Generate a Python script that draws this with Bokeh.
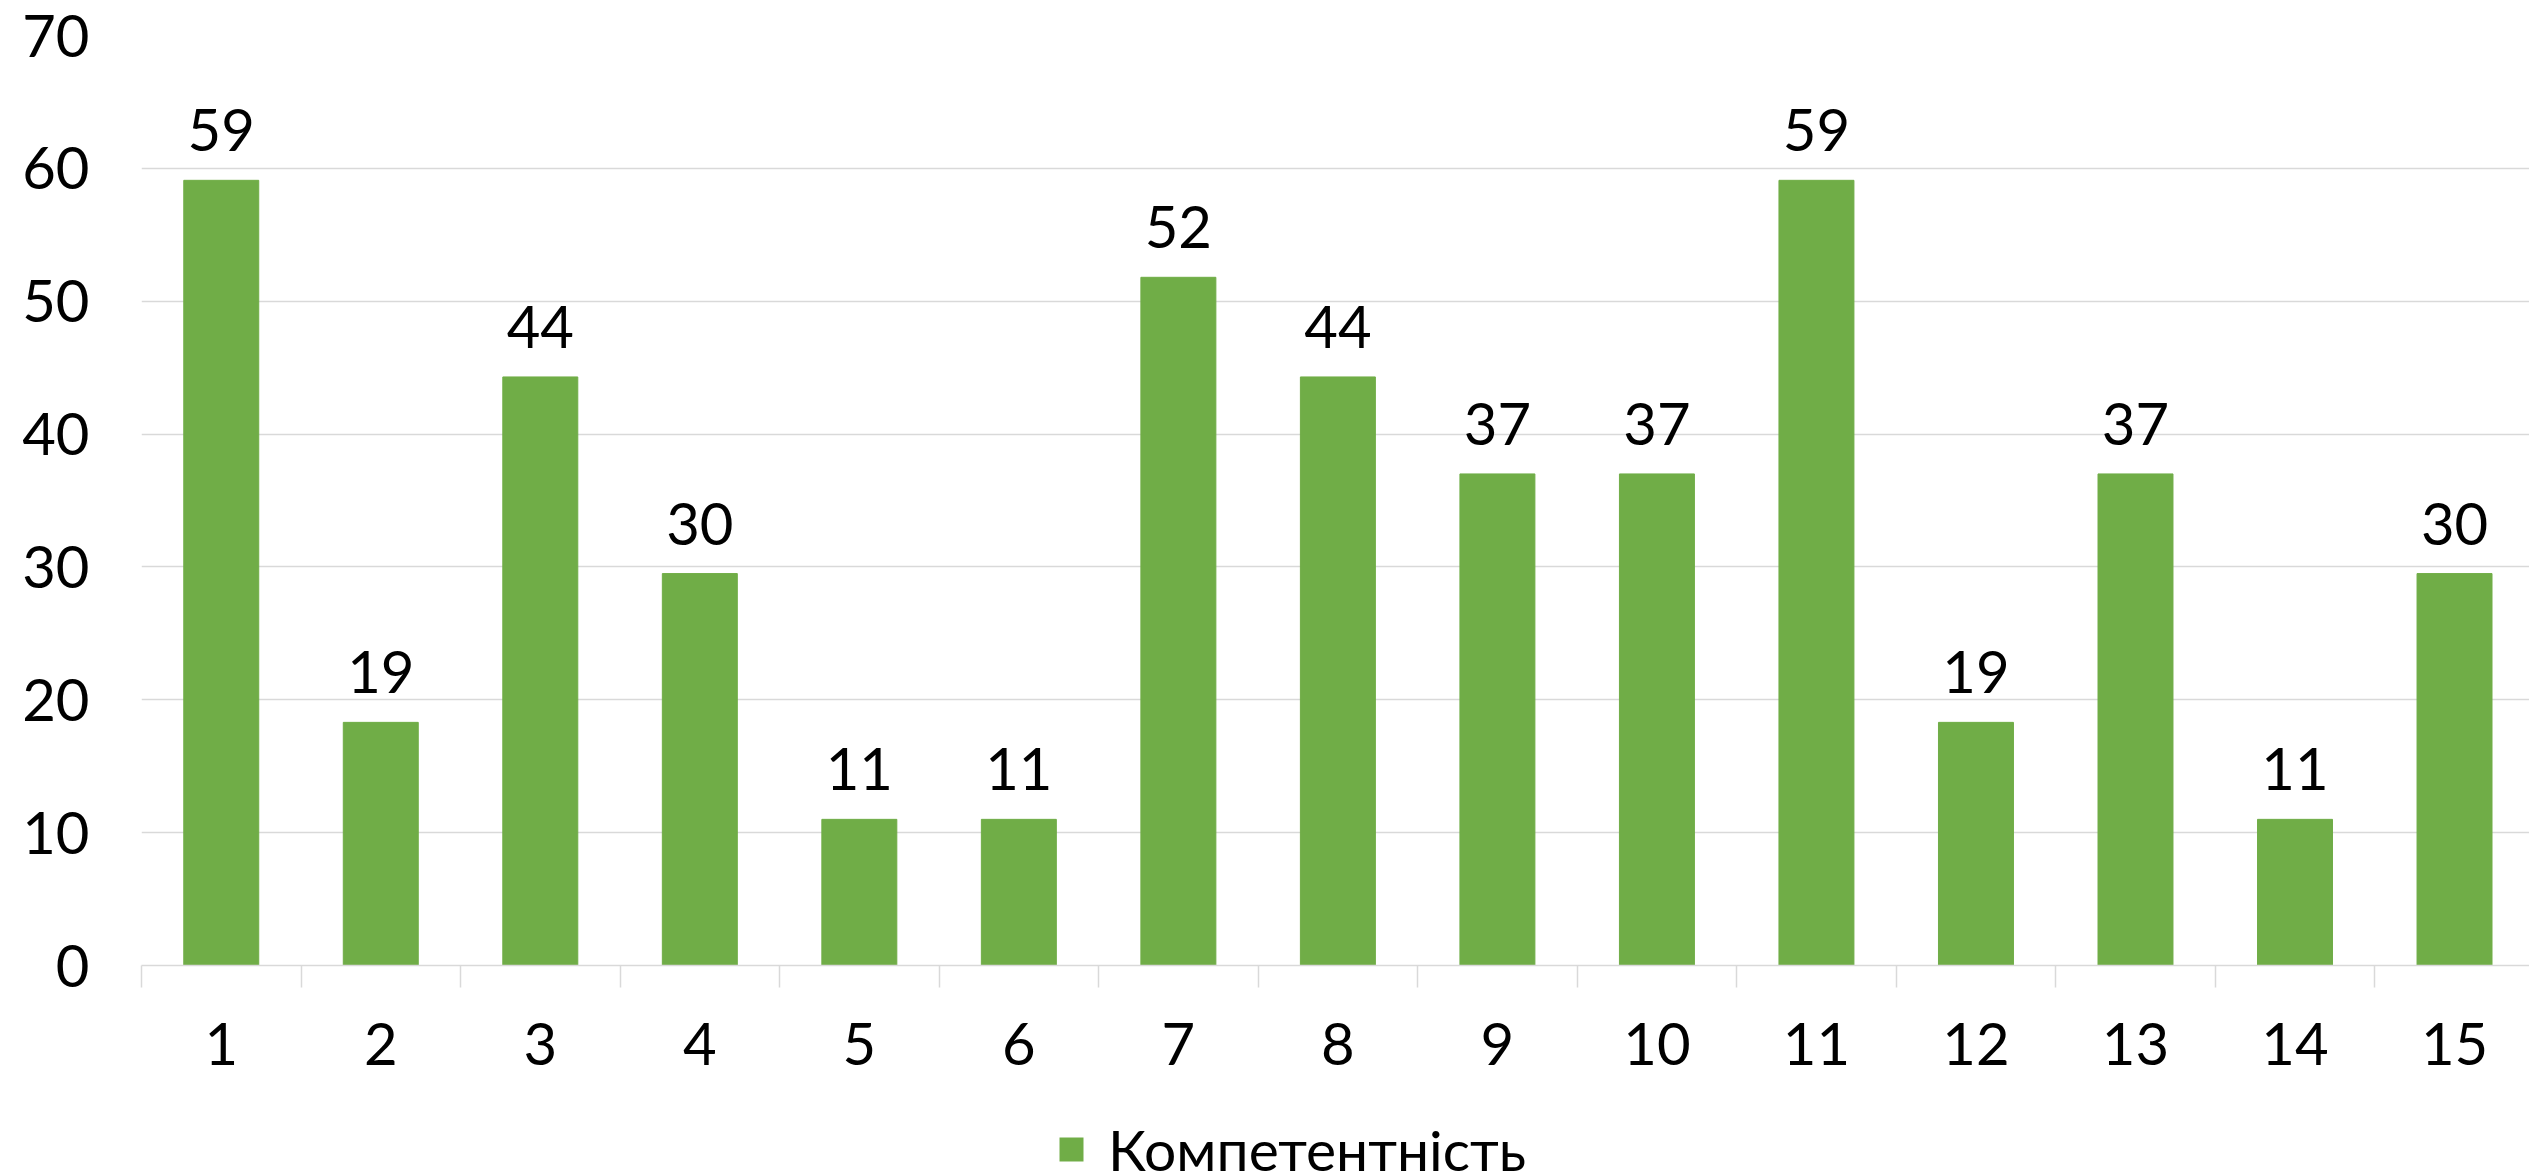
from bokeh.plotting import figure
from bokeh.layouts import column
from bokeh.models import (ColumnDataSource, Range1d, FixedTicker, Legend, LegendItem, LabelSet)
from bokeh.embed import file_html
from bokeh.resources import INLINE
from bokeh.core.properties import value

categories = [str(i) for i in range(1, 16)]
values = [59.1, 18.3, 44.3, 29.5, 11.0, 11.0, 51.8, 44.3, 37.0, 37.0, 59.1, 18.3, 37.0, 11.0, 29.5]
labels = ["59", "19", "44", "30", "11", "11", "52", "44", "37", "37", "59", "19", "37", "11", "30"]
series_name = "Компетентність"
y_ticks = [0, 10, 20, 30, 40, 50, 60, 70]

FONT = "Lato"
GREEN = "#70ad47"
GRID = "#d9d9d9"

xs = list(range(1, len(categories) + 1))
src = ColumnDataSource(dict(x=xs, top=values, label=labels))

p = figure(width=2529, height=1080, output_backend="svg", toolbar_location=None,
           x_range=Range1d(0.5, 15.47), y_range=Range1d(0, 70),
           min_border_left=141, min_border_right=0, min_border_top=35,
           min_border_bottom=115)
p.outline_line_color = None
p.background_fill_color = "white"
p.border_fill_color = "white"

r = p.vbar(x="x", top="top", width=0.47, source=src, fill_color=GREEN, line_color=GREEN)

lbl = LabelSet(x="x", y="top", text="label", source=src, text_align="center",
               text_baseline="alphabetic", y_offset=29, text_font=value(FONT),
               text_font_size=value("58px"), text_color=value("black"))
p.add_layout(lbl)

# x axis
p.xaxis.ticker = FixedTicker(ticks=xs, minor_ticks=[i + 0.5 for i in range(0, 16)])
p.xaxis.major_label_overrides = {i: c for i, c in zip(xs, categories)}
p.xaxis.major_tick_line_color = None
p.xaxis.minor_tick_in = 0
p.xaxis.minor_tick_out = 22
p.xaxis.minor_tick_line_color = GRID
p.xaxis.minor_tick_line_width = 1.5
p.xaxis.axis_line_color = GRID
p.xaxis.axis_line_width = 1.5
p.xaxis.major_label_text_font = FONT
p.xaxis.major_label_text_font_size = "58px"
p.xaxis.major_label_text_color = "black"
p.xaxis.major_label_standoff = 35

# y axis
p.yaxis.ticker = FixedTicker(ticks=y_ticks)
p.yaxis.axis_line_color = None
p.yaxis.major_tick_line_color = None
p.yaxis.minor_tick_line_color = None
p.yaxis.major_label_text_font = FONT
p.yaxis.major_label_text_font_size = "58px"
p.yaxis.major_label_text_color = "black"
p.yaxis.major_label_standoff = 46

p.xgrid.grid_line_color = None
p.ygrid.ticker = FixedTicker(ticks=y_ticks)
p.ygrid.grid_line_color = GRID
p.ygrid.grid_line_width = 1.5

# legend strip below the chart
lf = figure(width=2529, height=93, output_backend="svg", toolbar_location=None,
            x_range=Range1d(0, 1), y_range=Range1d(0, 1),
            x_axis_type=None, y_axis_type=None,
            min_border_left=0, min_border_right=0, min_border_top=0, min_border_bottom=0)
lf.grid.visible = False
lf.outline_line_color = None
lf.border_fill_color = "white"
lf.background_fill_color = "white"
dummy = lf.vbar(x=[0.5], top=[0], bottom=[0], width=0.1, fill_color=GREEN, line_color=None)
legend = Legend(items=[LegendItem(label=series_name, renderers=[dummy])],
                location=(915, -10), orientation="horizontal",
                label_text_font=FONT, label_text_font_size="57px",
                label_text_color="black", glyph_width=30, glyph_height=30,
                label_standoff=22, padding=0, margin=0, border_line_color=None,
                background_fill_alpha=0)
lf.add_layout(legend, "center")

open("out.html", "w").write(file_html(column(p, lf), INLINE))
